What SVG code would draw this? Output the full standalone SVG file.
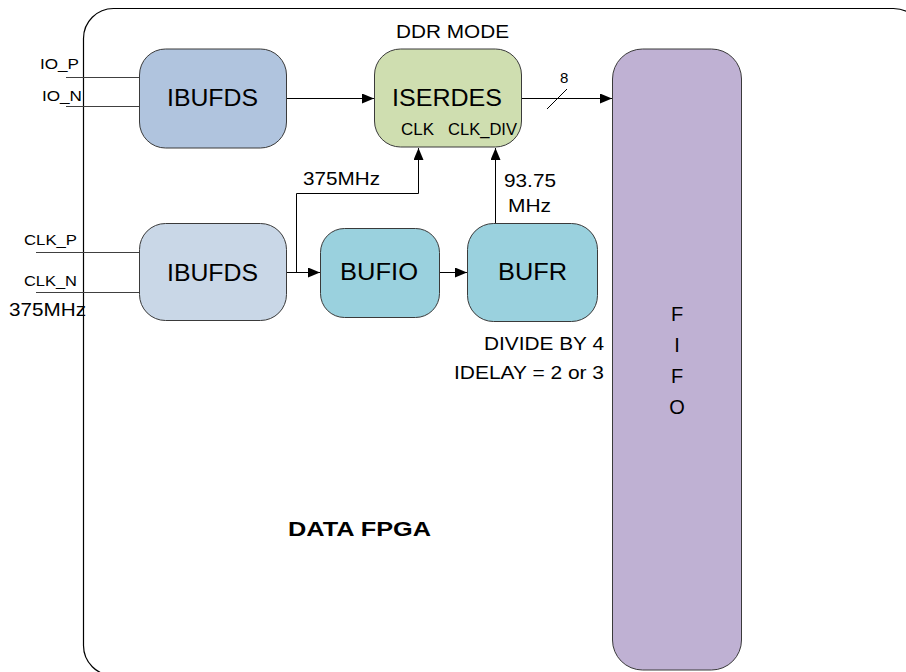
<svg xmlns="http://www.w3.org/2000/svg" width="906" height="672" viewBox="0 0 906 672">
<defs>
<marker id="ah" markerWidth="12" markerHeight="10" refX="12" refY="5" orient="auto" markerUnits="userSpaceOnUse">
<path d="M0,0 L12,5 L0,10 Z" fill="#000"/>
</marker>
<style>
text{font-family:"Liberation Sans",Arial,sans-serif;fill:#000}
.node{stroke:#3a3a3a;stroke-width:1}
.big{font-size:23px}
.lbl{font-size:18px}
.mid{font-size:19px}
.pinl{font-size:15px}
.sm{font-size:16px}
.wire{fill:none;stroke:#000;stroke-width:1}
.pin{fill:none;stroke:#404040;stroke-width:1}
</style>
</defs>
<rect width="906" height="672" fill="#fff"/>
<g id="fpga">
<rect x="83.5" y="8.5" width="840" height="667" rx="30" ry="30" fill="none" stroke="#000" stroke-width="1.2"/>
<text x="288" y="536" style="font-size:20px;font-weight:bold" textLength="143" lengthAdjust="spacingAndGlyphs">DATA FPGA</text>
</g>
<g id="connectors">
<line class="pin" x1="66" y1="77.5" x2="139" y2="77.5"/>
<line class="pin" x1="66" y1="106.5" x2="139" y2="106.5"/>
<line class="pin" x1="36" y1="252.5" x2="139" y2="252.5"/>
<line class="pin" x1="36" y1="292.5" x2="139" y2="292.5"/>
<line class="wire" x1="287" y1="98.5" x2="374" y2="98.5" marker-end="url(#ah)"/>
<line class="wire" x1="522" y1="98.5" x2="612" y2="98.5" marker-end="url(#ah)"/>
<line class="wire" x1="547" y1="109" x2="567" y2="89"/>
<line class="wire" x1="287" y1="272.5" x2="320" y2="272.5" marker-end="url(#ah)"/>
<polyline class="wire" points="296.5,272.5 296.5,193.5 418.5,193.5 418.5,148" marker-end="url(#ah)"/>
<line class="wire" x1="439" y1="272.5" x2="467" y2="272.5" marker-end="url(#ah)"/>
<line class="wire" x1="495.5" y1="223" x2="495.5" y2="148" marker-end="url(#ah)"/>
<text x="560" y="83" style="font-size:15px">8</text>
<text x="303" y="185" class="lbl" textLength="77" lengthAdjust="spacingAndGlyphs">375MHz</text>
<text x="504" y="187" class="lbl" textLength="52" lengthAdjust="spacingAndGlyphs">93.75</text>
<text x="508" y="212" class="lbl" textLength="43" lengthAdjust="spacingAndGlyphs">MHz</text>
<text x="40" y="69" class="pinl" textLength="39" lengthAdjust="spacingAndGlyphs">IO_P</text>
<text x="42" y="101" class="pinl" textLength="40" lengthAdjust="spacingAndGlyphs">IO_N</text>
<text x="24" y="245" class="pinl" textLength="53" lengthAdjust="spacingAndGlyphs">CLK_P</text>
<text x="24" y="286" class="pinl" textLength="53" lengthAdjust="spacingAndGlyphs">CLK_N</text>
<text x="9" y="316" class="mid" textLength="77" lengthAdjust="spacingAndGlyphs">375MHz</text>
</g>
<g id="ibufds_data">
<rect class="node" x="139.5" y="49" width="147" height="99" rx="26" fill="#b0c4de"/>
<text x="167" y="106" class="big" textLength="91" lengthAdjust="spacingAndGlyphs">IBUFDS</text>
</g>
<g id="iserdes">
<rect class="node" x="374.5" y="49" width="147" height="98" rx="26" fill="#cfdeb0"/>
<text x="392" y="106" class="big" textLength="110" lengthAdjust="spacingAndGlyphs">ISERDES</text>
<text x="401" y="135" class="sm" textLength="33" lengthAdjust="spacingAndGlyphs">CLK</text>
<text x="448" y="135" class="sm" textLength="69" lengthAdjust="spacingAndGlyphs">CLK_DIV</text>
<text x="396" y="38" class="mid" textLength="113" lengthAdjust="spacingAndGlyphs">DDR MODE</text>
</g>
<g id="ibufds_clk">
<rect class="node" x="139.5" y="223.5" width="147" height="97" rx="26" fill="#c9d7e7"/>
<text x="167" y="281" class="big" textLength="91" lengthAdjust="spacingAndGlyphs">IBUFDS</text>
</g>
<g id="bufio">
<rect class="node" x="320.5" y="228.5" width="119" height="89" rx="24" fill="#9ad1de"/>
<text x="340" y="280" class="big" textLength="78" lengthAdjust="spacingAndGlyphs">BUFIO</text>
</g>
<g id="bufr">
<rect class="node" x="467.5" y="223.5" width="130" height="98" rx="26" fill="#9ad1de"/>
<text x="498" y="280" class="big" textLength="69" lengthAdjust="spacingAndGlyphs">BUFR</text>
<text x="484" y="350" class="mid" textLength="120" lengthAdjust="spacingAndGlyphs">DIVIDE BY 4</text>
<text x="454" y="379" class="mid" textLength="150" lengthAdjust="spacingAndGlyphs">IDELAY = 2 or 3</text>
</g>
<g id="fifo">
<rect class="node" x="612.5" y="49" width="129" height="621" rx="30" fill="#bfb1d3"/>
<text x="677" y="321" style="font-size:20px;text-anchor:middle">F</text>
<text x="677" y="352" style="font-size:20px;text-anchor:middle">I</text>
<text x="677" y="383" style="font-size:20px;text-anchor:middle">F</text>
<text x="677" y="414" style="font-size:20px;text-anchor:middle">O</text>
</g>
</svg>
